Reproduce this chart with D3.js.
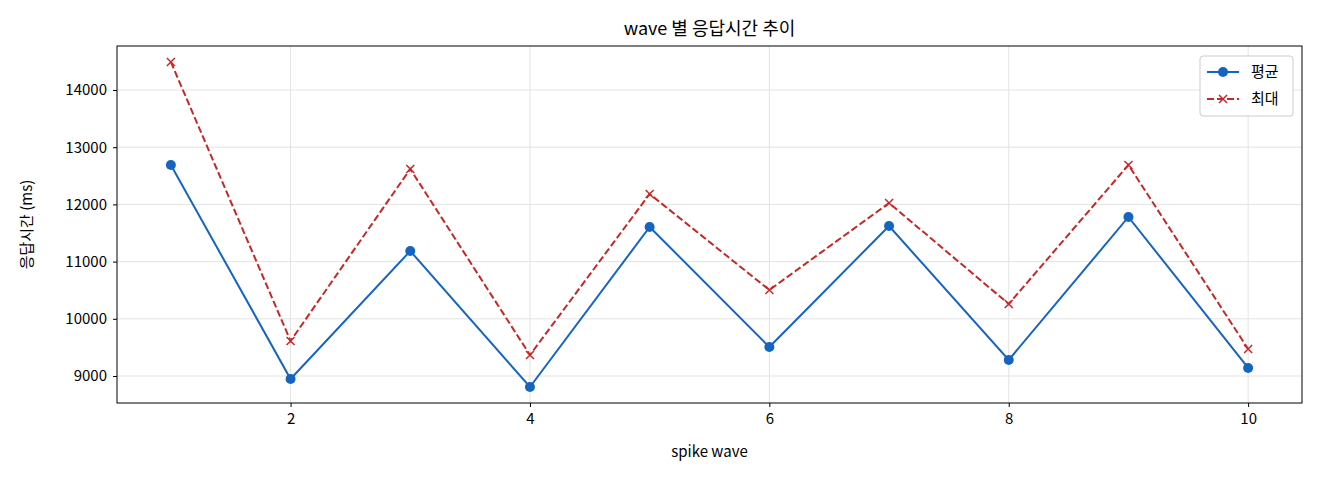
<!DOCTYPE html>
<html><head><meta charset="utf-8">
<script src="https://cdn.jsdelivr.net/npm/d3@7"></script>
<style>
body{margin:0;background:#fff;font-family:"Noto Sans CJK KR","DejaVu Sans",sans-serif;}
text{font-family:"Noto Sans CJK KR","DejaVu Sans",sans-serif;}
</style></head>
<body><svg id="gfx" width="1320" height="480"></svg>
<script>
var waves = [1, 2, 3, 4, 5, 6, 7, 8, 9, 10];
var meanVals = [12690, 8948, 11185, 8808, 11605, 9507, 11622, 9280, 11780, 9140];
var maxVals = [14490, 9612, 12619, 9367, 12182, 10503, 12024, 10259, 12689, 9472];
var xTicks = [2, 4, 6, 8, 10];
var yTicks = [9000, 10000, 11000, 12000, 13000, 14000];

var m = {l: 117, r: 1302, t: 46, b: 403};
var svg = d3.select("#gfx");
var x = d3.scaleLinear().domain([0.55, 10.45]).range([m.l, m.r]);
var y = d3.scaleLinear().domain([8528, 14769]).range([m.b, m.t]);

// grid
svg.append("g").selectAll("line").data(xTicks).enter().append("line")
    .attr("x1", d => x(d)).attr("x2", d => x(d)).attr("y1", m.t).attr("y2", m.b)
    .attr("stroke", "#e3e3e3");
svg.append("g").selectAll("line").data(yTicks).enter().append("line")
    .attr("y1", d => y(d)).attr("y2", d => y(d)).attr("x1", m.l).attr("x2", m.r)
    .attr("stroke", "#e3e3e3");

var xa = svg.append("g").attr("transform", "translate(0," + m.b + ")")
    .call(d3.axisBottom(x).tickValues(xTicks).tickSize(4).tickPadding(6));
var ya = svg.append("g").attr("transform", "translate(" + m.l + ",0)")
    .call(d3.axisLeft(y).tickValues(yTicks).tickFormat(d3.format("d")).tickSize(4).tickPadding(6));
[xa, ya].forEach(a => {
    a.select(".domain").remove();
    a.selectAll("text").attr("font-size", 15).attr("fill", "#000");
});

svg.append("rect").attr("x", m.l).attr("y", m.t).attr("width", m.r - m.l).attr("height", m.b - m.t)
    .attr("fill", "none").attr("stroke", "#000");

var line = d3.line().x((d, i) => x(waves[i])).y(d => y(d));
svg.append("path").datum(meanVals).attr("d", line).attr("fill", "none")
    .attr("stroke", "#1565c0").attr("stroke-width", 2);
svg.append("path").datum(maxVals).attr("d", line).attr("fill", "none")
    .attr("stroke", "#c62828").attr("stroke-width", 2).attr("stroke-dasharray", "7,3");
svg.append("g").selectAll("circle").data(meanVals).enter().append("circle")
    .attr("cx", (d, i) => x(waves[i])).attr("cy", d => y(d)).attr("r", 5).attr("fill", "#1565c0");
function cross(g, cx, cy) {
    g.append("path").attr("d", "M" + (cx - 4) + "," + (cy - 4) + "L" + (cx + 4) + "," + (cy + 4) +
        "M" + (cx - 4) + "," + (cy + 4) + "L" + (cx + 4) + "," + (cy - 4))
        .attr("stroke", "#c62828").attr("stroke-width", 1.5);
}
var cg = svg.append("g");
maxVals.forEach((d, i) => cross(cg, x(waves[i]), y(d)));

svg.append("text").attr("x", (m.l + m.r) / 2).attr("y", 35).attr("text-anchor", "middle")
    .attr("font-size", 18).text("wave 별 응답시간 추이");
svg.append("text").attr("x", (m.l + m.r) / 2).attr("y", 457).attr("text-anchor", "middle")
    .attr("font-size", 15).text("spike wave");
svg.append("text").attr("transform", "translate(32," + ((m.t + m.b) / 2) + ") rotate(-90)")
    .attr("text-anchor", "middle").attr("font-size", 15).text("응답시간 (ms)");

// legend
var lg = svg.append("g");
lg.append("rect").attr("x", 1200).attr("y", 56).attr("width", 93).attr("height", 60).attr("rx", 3)
    .attr("fill", "#fff").attr("stroke", "#ccc");
lg.append("line").attr("x1", 1207).attr("x2", 1239).attr("y1", 72).attr("y2", 72)
    .attr("stroke", "#1565c0").attr("stroke-width", 2);
lg.append("circle").attr("cx", 1223).attr("cy", 72).attr("r", 5).attr("fill", "#1565c0");
lg.append("line").attr("x1", 1207).attr("x2", 1239).attr("y1", 99).attr("y2", 99)
    .attr("stroke", "#c62828").attr("stroke-width", 2).attr("stroke-dasharray", "7,3");
cross(lg, 1223, 99);
lg.append("text").attr("x", 1251).attr("y", 77).attr("font-size", 15).text("평균");
lg.append("text").attr("x", 1251).attr("y", 104).attr("font-size", 15).text("최대");
</script></body></html>
